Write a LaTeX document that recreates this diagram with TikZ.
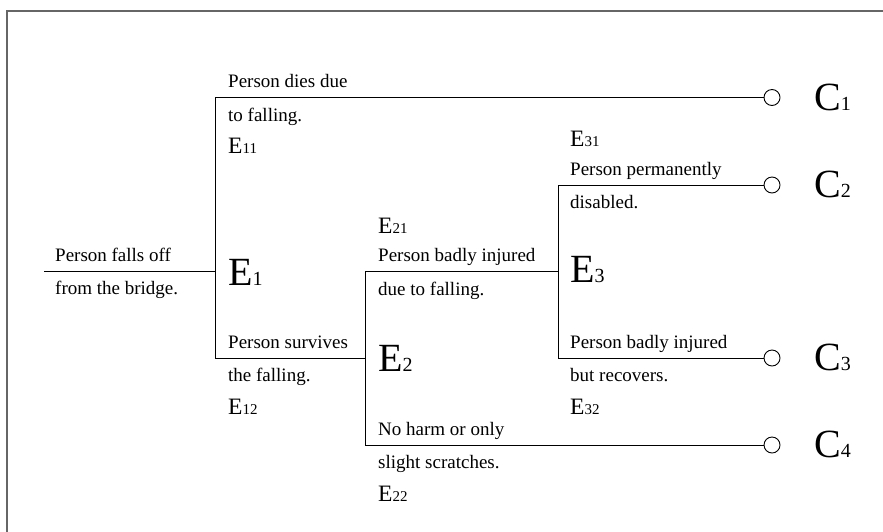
\documentclass[tikz,border=0pt]{standalone}
\usepackage{fontspec}
\setmainfont{Liberation Serif}
\begin{document}
\begin{tikzpicture}[x=1pt,y=-1pt,
  txt/.style={anchor=base west,inner sep=0pt,font=\fontsize{19}{22}\selectfont},
  bigE/.style={anchor=base west,inner sep=0pt,font=\fontsize{40}{40}\selectfont},
  smallE/.style={anchor=base west,inner sep=0pt,font=\fontsize{23.5}{24}\selectfont},
  endc/.style={circle,draw=black,fill=white,minimum size=16pt,inner sep=0pt,line width=0.9pt},
  br/.style={line width=0.9pt,black}]
\useasboundingbox (0,0) rectangle (883,531);
\draw[gray!80!black,line width=1.5pt] (7,540) -- (7,11) -- (890,11);
% junction coordinates
\coordinate (s0) at (44,271);
\coordinate (e1m) at (215,271);
\coordinate (e1t) at (215,97.5);
\coordinate (e1b) at (215,358);
\coordinate (e2m) at (365,358);
\coordinate (e2t) at (365,271);
\coordinate (e2b) at (365,445);
\coordinate (e3m) at (558,271);
\coordinate (e3t) at (558,185);
\coordinate (e3b) at (558,358);
\node[endc] (c1) at (772,97.5) {};
\node[endc] (c2) at (772,185) {};
\node[endc] (c3) at (772,358) {};
\node[endc] (c4) at (772,445) {};
% branches
\draw[br] (s0) -- (e1m);
\draw[br] (e1t) -- (e1b);
\draw[br] (e1t) -- (c1);
\draw[br] (e1b) -- (e2m);
\draw[br] (e2t) -- (e2b);
\draw[br] (e2t) -- (e3m);
\draw[br] (e3t) -- (e3b);
\draw[br] (e3t) -- (c2);
\draw[br] (e3b) -- (c3);
\draw[br] (e2b) -- (c4);
% texts
\node[txt] (t0a) at (55,261) {Person falls off};
\node[txt] (t0b) at (55,294.5) {from the bridge.};
\node[bigE] (E1) at (228,285) {E\fontsize{20}{20}\selectfont 1};
\node[txt] (t11a) at (228,87.5) {Person dies due};
\node[txt] (t11b) at (228,121) {to falling.};
\node[smallE] (E11) at (228,153) {E\fontsize{15}{15}\selectfont 11};
\node[txt] (t12a) at (228,348) {Person survives};
\node[txt] (t12b) at (228,381.5) {the falling.};
\node[smallE] (E12) at (228,414) {E\fontsize{15}{15}\selectfont 12};
\node[bigE] (E2) at (378,371) {E\fontsize{20}{20}\selectfont 2};
\node[smallE] (E21) at (378,233.5) {E\fontsize{15}{15}\selectfont 21};
\node[txt] (t21a) at (378,261.5) {Person badly injured};
\node[txt] (t21b) at (378,295) {due to falling.};
\node[txt] (t22a) at (378,435) {No harm or only};
\node[txt] (t22b) at (378,468.5) {slight scratches.};
\node[smallE] (E22) at (378,501) {E\fontsize{15}{15}\selectfont 22};
\node[bigE] (E3) at (570,282) {E\fontsize{20}{20}\selectfont 3};
\node[smallE] (E31) at (570,146.5) {E\fontsize{15}{15}\selectfont 31};
\node[txt] (t31a) at (570,175) {Person permanently};
\node[txt] (t31b) at (570,208.5) {disabled.};
\node[txt] (t32a) at (570,348) {Person badly injured};
\node[txt] (t32b) at (570,381.5) {but recovers.};
\node[smallE] (E32) at (570,414) {E\fontsize{15}{15}\selectfont 32};
\node[bigE] (C1) at (814,110) {C\fontsize{20}{20}\selectfont 1};
\node[bigE] (C2) at (814,197) {C\fontsize{20}{20}\selectfont 2};
\node[bigE] (C3) at (814,370) {C\fontsize{20}{20}\selectfont 3};
\node[bigE] (C4) at (814,457) {C\fontsize{20}{20}\selectfont 4};
\end{tikzpicture}
\end{document}
